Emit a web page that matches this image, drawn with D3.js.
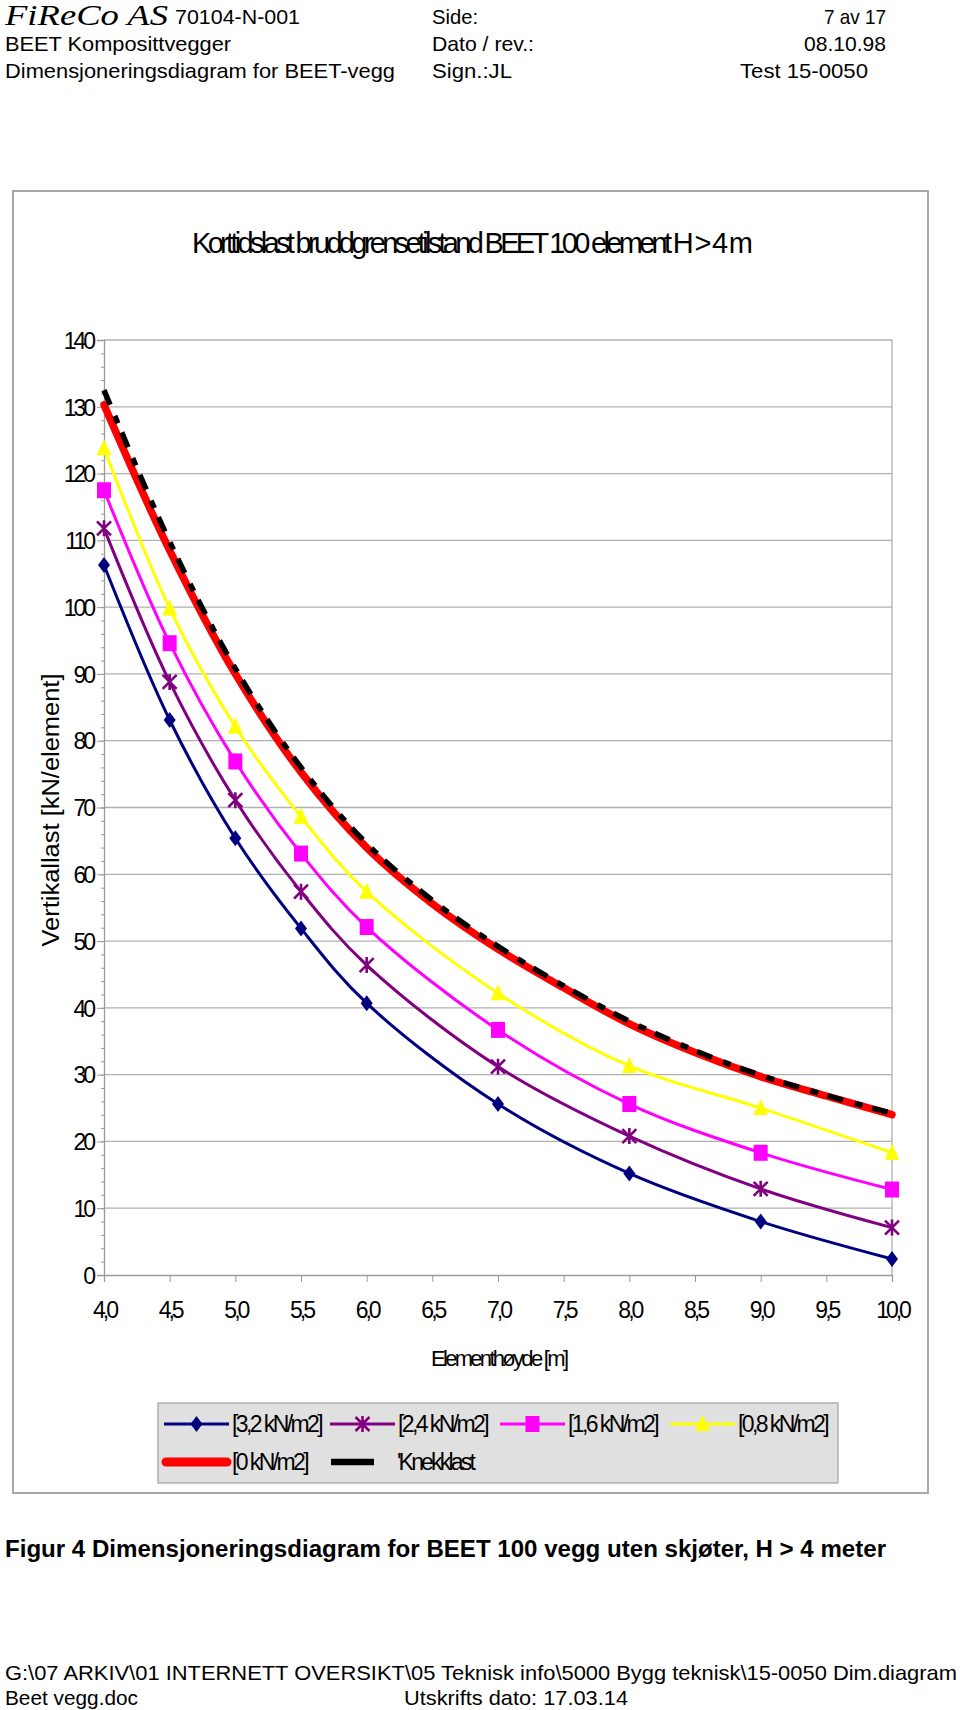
<!DOCTYPE html>
<html><head><meta charset="utf-8">
<script src="https://cdn.jsdelivr.net/npm/d3@7"></script>
<style>body{margin:0;background:#fff}svg{display:block}</style>
</head><body><svg id="c" width="960" height="1710"></svg>
<script>
// ---- data ----
const heights = [4.0, 4.5, 5.0, 5.5, 6.0, 7.0, 8.0, 9.0, 10.0];
const heightsFine = [4.0, 4.5, 5.0, 5.5, 6.0, 6.5, 7.0, 7.5, 8.0, 8.5, 9.0, 9.5, 10.0];
const load32 = [106.3, 83.1, 65.4, 51.9, 40.7, 25.6, 15.2, 8.0, 2.4];
const load24 = [111.8, 88.8, 71.1, 57.4, 46.4, 31.2, 20.8, 12.9, 7.1];
const load16 = [117.5, 94.6, 76.9, 63.1, 52.1, 36.7, 25.6, 18.3, 12.8];
const load08 = [123.8, 99.8, 82.1, 68.6, 57.4, 42.2, 31.3, 25.0, 18.3];
const load00 = [130.3, 108.5, 90.0, 75.3, 64.0, 55.6, 48.8, 43.0, 37.6, 33.3, 29.7, 26.8, 24.0];
const knekklast = [132.5, 109.8, 90.8, 76.0, 64.6, 56.1, 49.2, 43.3, 38.0, 33.6, 29.9, 26.9, 24.2];
const seriesNames = ["[3,2 kN/m2]", "[2,4 kN/m2]", "[1,6 kN/m2]", "[0,8 kN/m2]", "[0 kN/m2]", "'Knekklast"];
const yTicks = [0, 10, 20, 30, 40, 50, 60, 70, 80, 90, 100, 110, 120, 130, 140];
const xTicks = [4.0, 4.5, 5.0, 5.5, 6.0, 6.5, 7.0, 7.5, 8.0, 8.5, 9.0, 9.5, 10.0];
const chartTitle = "Korttidslast bruddgrensetilstand BEET 100 element H > 4 m";
const xTitle = "Elementhøyde [m]";
const yTitle = "Vertikallast [kN/element]";

const svg = d3.select("#c");
svg.append("rect").attr("width", 960).attr("height", 1710).attr("fill", "#fff");

function txt(s, x, y, o = {}) {
  const t = svg.append("text").attr("x", x).attr("y", y).text(s)
    .attr("font-family", o.family || "'Liberation Sans', Arial, sans-serif")
    .attr("font-size", o.size || 20)
    .attr("fill", o.fill || "#000");
  if (o.weight) t.attr("font-weight", o.weight);
  if (o.style) t.attr("font-style", o.style);
  if (o.anchor) t.attr("text-anchor", o.anchor);
  if (o.ls !== undefined) t.attr("letter-spacing", o.ls);
  if (o.len) t.attr("textLength", o.len).attr("lengthAdjust", o.adj || "spacingAndGlyphs");
  if (o.rot) t.attr("transform", `rotate(${o.rot},${x},${y})`);
  return t;
}

// ---- page header ----
txt("FiReCo AS", 5, 25, {family: "'Liberation Serif', 'Times New Roman', serif", style: "italic", size: 29, len: 163});
txt("70104-N-001", 175, 24, {size: 21, len: 125});
txt("Side:", 432, 24, {size: 21, len: 46});
txt("7 av 17", 886, 24, {size: 21, anchor: "end", len: 62});
txt("BEET Komposittvegger", 5, 51, {size: 21, len: 226});
txt("Dato / rev.:", 432, 51, {size: 21, len: 102});
txt("08.10.98", 886, 51, {size: 21, anchor: "end", len: 82});
txt("Dimensjoneringsdiagram for BEET-vegg", 5, 78, {size: 21, len: 390});
txt("Sign.:JL", 432, 78, {size: 21, len: 80});
txt("Test 15-0050", 868, 78, {size: 21, anchor: "end", len: 128});

// ---- chart frame ----
svg.append("rect").attr("x", 13).attr("y", 191).attr("width", 915).attr("height", 1302)
  .attr("fill", "#fff").attr("stroke", "#a8a8a8").attr("stroke-width", 2);

txt(chartTitle, 192, 253, {size: 29, len: 561, adj: "spacing"});

const x = d3.scaleLinear().domain([4, 10]).range([104, 892]);
const y = d3.scaleLinear().domain([0, 140]).range([1275, 340]);

// gridlines
svg.append("g").selectAll("line").data(yTicks.filter(v => v > 0)).join("line")
  .attr("x1", x(4)).attr("x2", x(10)).attr("y1", d => y(d)).attr("y2", d => y(d))
  .attr("stroke", "#b0b0b0").attr("stroke-width", 1.3);
svg.append("line").attr("x1", x(10)).attr("x2", x(10)).attr("y1", y(140)).attr("y2", y(0))
  .attr("stroke", "#b0b0b0").attr("stroke-width", 1.3);

// y axis
const minorY = d3.range(0, 141, 2);
const gMinor = svg.append("g").attr("transform", `translate(${x(4)},0)`)
  .call(d3.axisLeft(y).tickValues(minorY).tickSize(3).tickFormat(""));
gMinor.select(".domain").remove();
gMinor.selectAll("line").attr("stroke", "#999");
const gy = svg.append("g").attr("transform", `translate(${x(4)},0)`)
  .call(d3.axisLeft(y).tickValues(yTicks).tickSize(7).tickPadding(4).tickFormat(d => d));
gy.select(".domain").attr("stroke", "#999").attr("stroke-width", 1.3);
gy.selectAll("line").attr("stroke", "#999");
gy.selectAll("text").attr("font-family", "'Liberation Sans', Arial, sans-serif")
  .attr("font-size", 23).attr("letter-spacing", -3).attr("fill", "#000").attr("dy", "0.36em");

// x axis
const gx = svg.append("g").attr("transform", `translate(0,${y(0)})`)
  .call(d3.axisBottom(x).tickValues(xTicks).tickSize(7).tickPadding(20)
    .tickFormat(d => d.toFixed(1).replace(".", ",")));
gx.select(".domain").attr("stroke", "#999").attr("stroke-width", 1.3);
gx.selectAll("line").attr("stroke", "#999");
gx.selectAll("text").attr("font-family", "'Liberation Sans', Arial, sans-serif")
  .attr("font-size", 23).attr("letter-spacing", -3).attr("fill", "#000").attr("dy", "0.71em");

txt(xTitle, 500, 1366, {size: 22, anchor: "middle", len: 138, adj: "spacing"});
txt(yTitle, 59, 810, {size: 23, anchor: "middle", rot: -90, len: 273});

// ---- series ----
const line = d3.line().x(d => x(d[0])).y(d => y(d[1])).curve(d3.curveCatmullRom.alpha(0.5));
const zip = (xs, ys) => xs.map((v, i) => [v, ys[i]]);

const colors = ["#000080", "#800080", "#ff00ff", "#ffff00", "#ff0000", "#000000"];
const markerSeries = [load32, load24, load16, load08];

function marker(g, type, cx, cy, color) {
  if (type === 0) {
    g.append("path").attr("d", `M${cx},${cy - 8}L${cx + 6},${cy}L${cx},${cy + 8}L${cx - 6},${cy}Z`).attr("fill", color);
  } else if (type === 1) {
    const r = 7;
    g.append("path").attr("d", `M${cx - r},${cy - r}L${cx + r},${cy + r}M${cx - r},${cy + r}L${cx + r},${cy - r}M${cx},${cy - r - 1}L${cx},${cy + r + 1}`)
      .attr("stroke", color).attr("stroke-width", 2.6).attr("fill", "none");
  } else if (type === 2) {
    g.append("rect").attr("x", cx - 7).attr("y", cy - 8).attr("width", 14).attr("height", 16).attr("fill", color);
  } else if (type === 3) {
    g.append("path").attr("d", `M${cx},${cy - 9}L${cx + 7.5},${cy + 7}L${cx - 7.5},${cy + 7}Z`).attr("fill", color);
  }
}

// red (0 kN/m2) thick line
svg.append("path").attr("d", line(zip(heightsFine, load00))).attr("fill", "none")
  .attr("stroke", colors[4]).attr("stroke-width", 7.5).attr("stroke-linecap", "round");
// knekklast dashed black
svg.append("path").attr("d", line(zip(heightsFine, knekklast))).attr("fill", "none")
  .attr("stroke", colors[5]).attr("stroke-width", 5.5).attr("stroke-dasharray", "16,12,8,10");

// marker series
for (let i = 3; i >= 0; i--) {
  const g = svg.append("g");
  const pts = zip(heights, markerSeries[i]);
  g.append("path").attr("d", line(pts)).attr("fill", "none").attr("stroke", colors[i]).attr("stroke-width", 3);
  pts.forEach(p => marker(g, i, x(p[0]), y(p[1]), colors[i]));
}

// ---- legend ----
svg.append("rect").attr("x", 158).attr("y", 1403).attr("width", 680).attr("height", 80)
  .attr("fill", "#e0e0e0").attr("stroke", "#a8a8a8").attr("stroke-width", 1.3);
const legRow1 = 1424, legRow2 = 1462;
const legX = [164, 330, 500, 670];
for (let i = 0; i < 4; i++) {
  const g = svg.append("g");
  g.append("line").attr("x1", legX[i]).attr("x2", legX[i] + 65).attr("y1", legRow1).attr("y2", legRow1)
    .attr("stroke", colors[i]).attr("stroke-width", 3);
  marker(g, i, legX[i] + 32.5, legRow1, colors[i]);
  txt(seriesNames[i], legX[i] + 68, legRow1 + 8, {size: 23, ls: -2.6});
}
svg.append("line").attr("x1", 166).attr("x2", 227).attr("y1", legRow2).attr("y2", legRow2)
  .attr("stroke", colors[4]).attr("stroke-width", 9).attr("stroke-linecap", "round");
txt(seriesNames[4], 232, legRow2 + 8, {size: 23, ls: -2.6});
svg.append("line").attr("x1", 331).attr("x2", 374).attr("y1", legRow2).attr("y2", legRow2)
  .attr("stroke", colors[5]).attr("stroke-width", 6.5);
txt(seriesNames[5], 397, legRow2 + 8, {size: 23, ls: -2.8});

// ---- caption & footer ----
txt("Figur 4 Dimensjoneringsdiagram for BEET 100 vegg uten skjøter, H > 4 meter", 5, 1557,
  {size: 23, weight: "bold", len: 881});
txt("G:\\07 ARKIV\\01 INTERNETT OVERSIKT\\05 Teknisk info\\5000 Bygg teknisk\\15-0050 Dim.diagram", 5, 1680,
  {size: 21, len: 952});
txt("Beet vegg.doc", 5, 1705, {size: 21, len: 133});
txt("Utskrifts dato: 17.03.14", 404, 1705, {size: 21, len: 224});
</script></body></html>
